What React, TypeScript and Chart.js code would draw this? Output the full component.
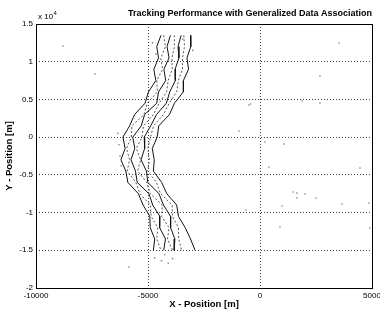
import React, { useEffect, useRef } from "react";
import { Chart, registerables } from "chart.js";

Chart.register(...registerables);

// Y positions (m) sampled along the tracks
const yPos = [13500, 12000, 10500, 9000, 7500, 6000, 4500, 3000, 1500, 0, -1500, -3000, -4500, -6000, -7500, -9000, -10500, -12000, -13500, -15000];

// X positions (m) of the tracks
const track0 = [-4420, -4610, -4530, -4740, -4650, -4980, -5130, -5600, -5820, -6120, -6020, -6210, -5990, -5900, -5430, -5220, -4920, -4900, -4700, -4760];
const track1 = [-4300, -4220, -4430, -4350, -4610, -4580, -5030, -5180, -5720, -5740, -5960, -5820, -5930, -5540, -5360, -4890, -4860, -4560, -4610, -4420];
const track2 = [-4000, -4150, -4060, -4290, -4210, -4530, -4610, -5150, -5300, -5680, -5590, -5760, -5560, -5480, -4960, -4790, -4470, -4480, -4220, -4300];
const track3 = [-3830, -3820, -3930, -3920, -4100, -4170, -4500, -4760, -5200, -5270, -5520, -5330, -5460, -5060, -4900, -4360, -4390, -4060, -4130, -3900];
const track4 = [-3520, -3660, -3620, -3790, -3780, -4030, -4180, -4620, -4880, -5170, -5150, -5310, -5070, -5010, -4510, -4310, -3990, -3990, -3800, -3830];
const track5 = [-3400, -3370, -3460, -3460, -3650, -3720, -4050, -4310, -4750, -4890, -5010, -4940, -5010, -4620, -4440, -3920, -3910, -3640, -3630, -3500];
const track6 = [-3100, -3090, -3260, -3190, -3420, -3420, -3820, -4040, -4520, -4590, -4810, -4720, -4760, -4390, -4160, -3720, -3640, -3340, -3100, -2900];

// clutter / false measurements
const clutterX = [3526, 2678, -492, -420, 1874, 2678, -938, 223, 1071, 401, 4463, 1472, 1650, 2008, 1650, 2499, 981, 3660, 4865, -626, 892, 4900, -8795, -7366, -5848, -6350, -6300, -6250, -6200, -4800, -4650, -3450, -3000, -4700, -4400, -4100, -3900, -4250];
const clutterY = [12480, 8105, 4259, 4400, 4790, 4525, 811, -646, -912, -3962, -4094, -7277, -7410, -7542, -8072, -8072, -9133, -8868, -8735, -9664, -11918, -12050, 12083, 8370, -17222, 500, -1000, -2500, -3800, 12500, 11000, 13000, 11500, -16000, -16400, -16700, -16100, -15600];

const xMin = -10000;
const xMax = 5000;
const yMin = -20000;
const yMax = 15000;
const tickStep = 5000;

const titleText = "Tracking Performance with Generalized Data Association";
const xTitle = "X - Position [m]";
const yTitle = "Y - Position [m]";

const FONT = '"Liberation Sans", Arial, Helvetica, sans-serif';

const tracks = [track0, track1, track2, track3, track4, track5, track6];
const dashedTrack = [false, true, false, true, false, true, false];

export default function App() {
  const ref = useRef<HTMLCanvasElement>(null);

  useEffect(() => {
    const framePlugin = {
      id: "frame",
      afterDraw(chart: any) {
        const { ctx, chartArea: a } = chart;
        ctx.save();
        ctx.strokeStyle = "#000";
        ctx.lineWidth = 1;
        ctx.setLineDash([]);
        ctx.strokeRect(Math.round(a.left) + 0.5, Math.round(a.top) + 0.5, Math.round(a.right - a.left), Math.round(a.bottom - a.top));
        ctx.fillStyle = "#000";
        ctx.textBaseline = "alphabetic";
        ctx.textAlign = "left";
        ctx.font = `8px ${FONT}`;
        const x0 = a.left + 2;
        const y0 = a.top - 5;
        ctx.fillText("x 10", x0, y0);
        const w = ctx.measureText("x 10").width;
        ctx.font = `6px ${FONT}`;
        ctx.fillText("4", x0 + w + 0.5, y0 - 4);
        ctx.restore();
      },
    };

    const datasets: any[] = tracks.map((t, i) => ({
      data: t.map((x, j) => ({ x, y: yPos[j] })),
      showLine: true,
      borderColor: dashedTrack[i] ? "#555" : "#111",
      borderWidth: 1,
      borderDash: dashedTrack[i] ? [2, 2] : [],
      pointRadius: 0,
      tension: 0,
    }));
    datasets.push({
      data: clutterX.map((x, j) => ({ x, y: clutterY[j] })),
      showLine: false,
      pointRadius: 0.8,
      pointBackgroundColor: "#777",
      pointBorderWidth: 0,
    });

    const gridOpts = {
      color: "rgba(0,0,0,0.75)",
      lineWidth: 1,
      drawTicks: false,
    };

    const chart = new Chart(ref.current as HTMLCanvasElement, {
      type: "scatter",
      data: { datasets },
      options: {
        responsive: false,
        animation: false,
        devicePixelRatio: 1,
        layout: { padding: { left: 0, right: 8, top: 0, bottom: 0 } },
        plugins: {
          legend: { display: false },
          tooltip: { enabled: false },
          title: {
            display: true,
            text: titleText,
            align: "end",
            color: "#000",
            font: { family: FONT, size: 9, weight: "bold" },
            padding: { top: 8, bottom: 5.2 },
          },
        },
        scales: {
          x: {
            type: "linear",
            min: xMin,
            max: xMax,
            grid: gridOpts,
            border: { display: false, dash: [1, 2] },
            ticks: {
              stepSize: tickStep,
              color: "#000",
              font: { family: FONT, size: 8 },
              padding: 3,
              maxRotation: 0,
              autoSkip: false,
              callback: (v: any) => String(v),
            },
            title: {
              display: true,
              text: xTitle,
              color: "#000",
              font: { family: FONT, size: 9.5, weight: "bold" },
              padding: { top: 0, bottom: 0 },
            },
            afterFit: (s: any) => {
              s.height = 22;
              s.paddingLeft = 0;
              s.paddingRight = 0;
            },
          },
          y: {
            type: "linear",
            min: yMin,
            max: yMax,
            grid: gridOpts,
            border: { display: false, dash: [1, 2] },
            ticks: {
              stepSize: tickStep,
              color: "#000",
              font: { family: FONT, size: 8 },
              padding: 3,
              autoSkip: false,
              callback: (v: any) => String(Number(v) / 10000),
            },
            title: {
              display: true,
              text: yTitle,
              color: "#000",
              font: { family: FONT, size: 9.5, weight: "bold" },
              padding: { top: 4, bottom: 0 },
            },
            afterFit: (s: any) => {
              s.width = 36;
              s.paddingTop = 0;
              s.paddingBottom = 0;
            },
          },
        },
      } as any,
      plugins: [framePlugin],
    });
    return () => chart.destroy();
  }, []);

  return (
    <div style={{ position: "fixed", left: 0, top: 0, width: 380, height: 310, background: "#fff" }}>
      <canvas ref={ref} width={380} height={310} style={{ display: "block", width: 380, height: 310 }} />
    </div>
  );
}
